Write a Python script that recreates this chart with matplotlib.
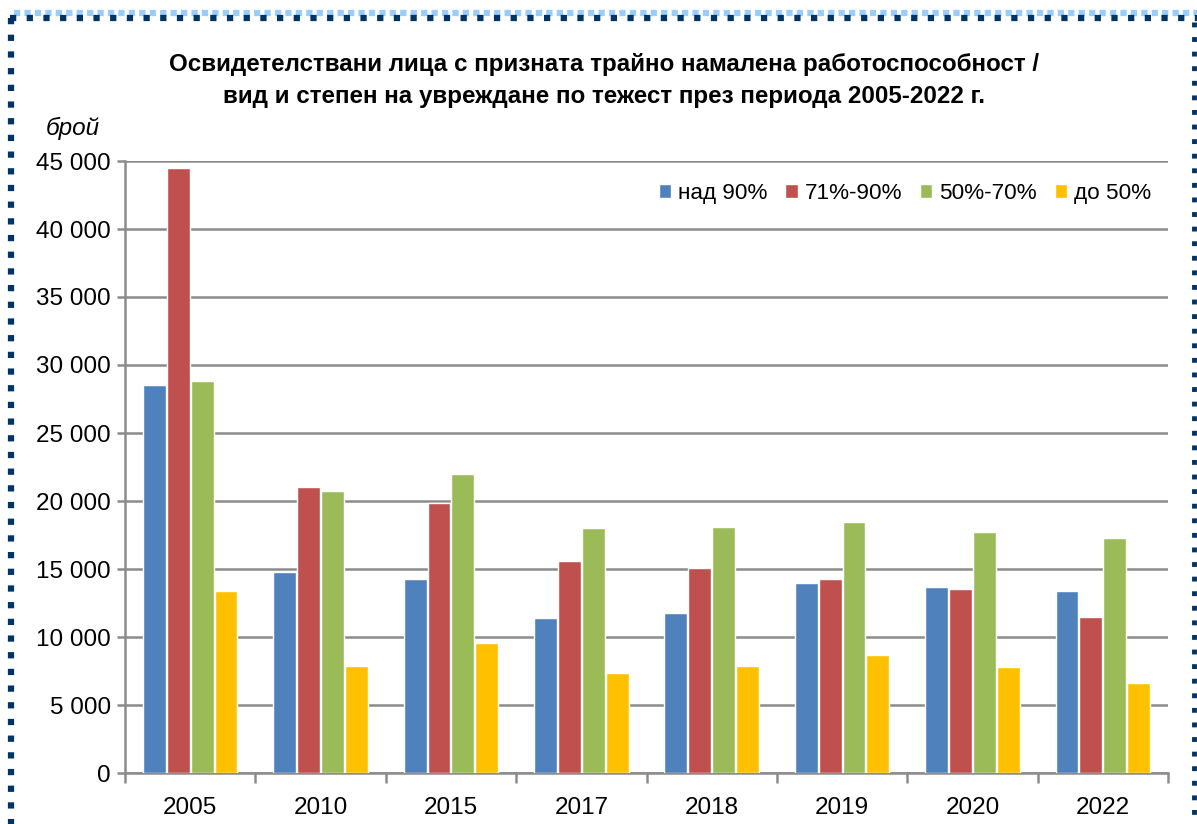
import matplotlib
matplotlib.use("Agg")
import matplotlib.pyplot as plt
import numpy as np
from matplotlib.lines import Line2D
from matplotlib.ticker import FuncFormatter, FixedLocator

plt.rcParams['font.family'] = ['Liberation Sans', 'DejaVu Sans']

years = ["2005", "2010", "2015", "2017", "2018", "2019", "2020", "2022"]
series_names = ["над 90%", "71%-90%", "50%-70%", "до 50%"]
over90 = [28500, 14800, 14300, 11400, 11800, 13950, 13700, 13400]
p71_90 = [44500, 21000, 19850, 15600, 15100, 14300, 13500, 11450]
p50_70 = [28800, 20700, 22000, 18050, 18100, 18450, 17750, 17300]
under50 = [13400, 7900, 9550, 7350, 7900, 8650, 7800, 6600]
colors = ["#4F81BD", "#C0504D", "#9BBB59", "#FFC000"]

title = ("Освидетелствани лица с призната трайно намалена работоспособност /\n"
         "вид и степен на увреждане по тежест през периода 2005-2022 г.")

fig = plt.figure(figsize=(11.97, 8.24), dpi=100)
ax = fig.add_axes([125/1197, 1-773/824, (1168-125)/1197, (773-161)/824])

x = np.arange(len(years))
w = 0.175
data = [over90, p71_90, p50_70, under50]
for i, (vals, c, name) in enumerate(zip(data, colors, series_names)):
    ax.bar(x + (i - 1.5) * 0.183, vals, width=w, color=c, edgecolor="white",
           linewidth=1.0, label=name, zorder=3)

ax.set_xlim(-0.5, len(years) - 0.5)
ax.set_ylim(0, 45000)
ax.set_yticks(np.arange(0, 45001, 5000))
ax.yaxis.set_major_formatter(FuncFormatter(lambda v, p: f"{int(v):,}".replace(",", " ")))
ax.grid(axis="y", color="#8c8c8c", linewidth=1.8, zorder=0)
ax.set_axisbelow(True)

ax.set_xticks(x)
ax.set_xticklabels(years)
ax.xaxis.set_minor_locator(FixedLocator(np.arange(-0.5, len(years), 1.0)))
ax.tick_params(axis="x", which="major", length=0, labelsize=17.5, pad=17)
ax.tick_params(axis="x", which="minor", length=7, width=1.8, color="#8c8c8c")
ax.tick_params(axis="y", length=6, width=1.8, color="#8c8c8c", labelsize=17.5, pad=4)

for s in ["top", "right"]:
    ax.spines[s].set_visible(False)
for s in ["left", "bottom"]:
    ax.spines[s].set_color("#8c8c8c")
    ax.spines[s].set_linewidth(1.8)

leg = ax.legend(loc="upper right", ncol=4, frameon=False, fontsize=16.2,
                handlelength=0.55, handleheight=0.55, handletextpad=0.3,
                columnspacing=0.8, bbox_to_anchor=(1.003, 0.997))

fig.text(0.505, 1-80/824, title, ha="center", va="center", fontsize=17.4,
         fontweight="bold", linespacing=1.5)
fig.text(73/1197, 1-128/824, "брой", ha="center", va="center", fontsize=17.5,
         style="italic")

# dotted border
navy = "#003366"
light = "#99CCFF"
fig.add_artist(Line2D([14/1197, 1197/1197], [1-13/824, 1-13/824], color=light,
                      linewidth=4.5, linestyle=(0, (1.0, 0.67)), transform=fig.transFigure))
fig.add_artist(Line2D([10/1197, 1197/1197], [1-18/824, 1-18/824], color=navy,
                      linewidth=4.5, linestyle=(0, (1.0, 1.67)), transform=fig.transFigure))
fig.add_artist(Line2D([11/1197, 11/1197], [1-18/824, 0], color=navy,
                      linewidth=4.5, linestyle=(0, (1.0, 1.67)), transform=fig.transFigure))
fig.add_artist(Line2D([1194/1197, 1194/1197], [1-22/824, 0], color=navy,
                      linewidth=3.5, linestyle=(0, (1.0, 2.0)), transform=fig.transFigure))

fig.savefig("out.png", dpi=100)
